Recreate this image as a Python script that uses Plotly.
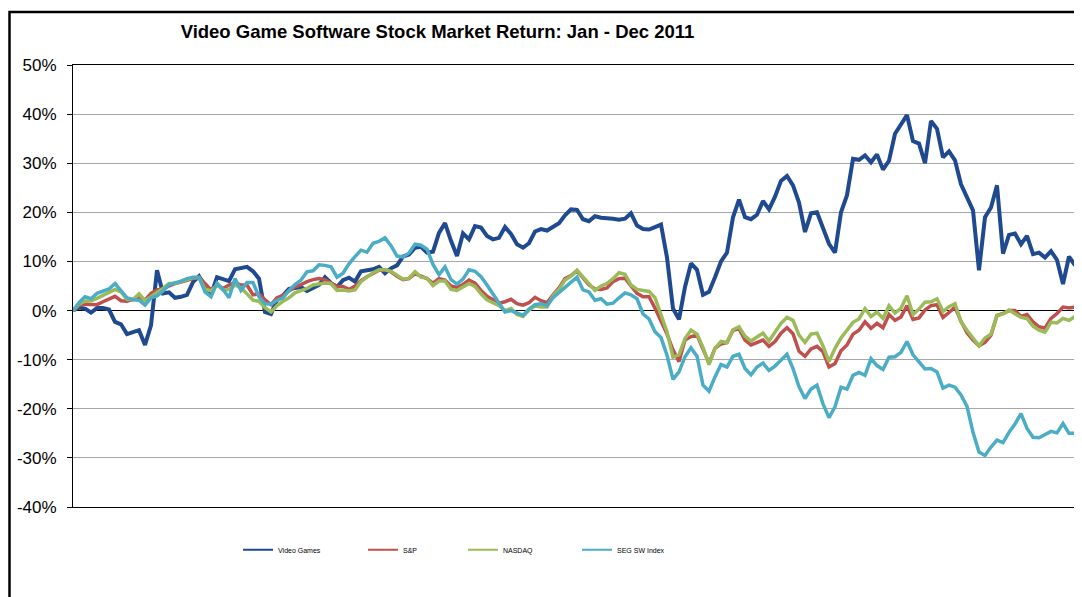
import plotly.graph_objects as go

series_names = ["Video Games", "S&P", "NASDAQ", "SEG SW Index"]

video_games = [0.0, 0.6, 0.4, -0.4, 0.5, 0.5, 0.2, -2.3, -2.8, -4.8, -4.4, -4.0, -7.0, -3.0, 8.2, 3.5, 3.7, 2.6, 2.8, 3.2,
               5.8, 7.0, 5.0, 3.2, 6.8, 6.4, 6.0, 8.4, 8.6, 8.9, 8.0, 6.5, -0.3, -0.7, 2.2, 3.1, 4.4, 4.7, 4.8, 4.0,
               4.5, 5.2, 6.8, 5.6, 4.8, 6.2, 6.7, 5.9, 8.0, 8.1, 8.4, 8.9, 7.6, 8.6, 9.2, 11.0, 11.4, 12.8, 13.0, 11.8,
               12.0, 15.8, 17.8, 14.2, 11.1, 15.7, 14.5, 17.2, 16.9, 15.2, 14.5, 14.8, 17.0, 15.6, 13.5, 12.8, 13.7, 16.1, 16.6, 16.3,
               17.1, 17.8, 19.4, 20.6, 20.5, 18.6, 18.2, 19.2, 18.9, 18.9, 18.7, 18.5, 18.7, 19.8, 17.3, 16.6, 16.5, 17.0, 17.5, 10.8,
               0.4, -1.8, 4.8, 9.6, 8.3, 3.2, 3.8, 6.8, 10.0, 11.8, 19.0, 22.6, 19.0, 18.6, 19.5, 22.3, 20.6, 23.2, 26.4, 27.4,
               25.5, 22.0, 16.0, 19.8, 20.0, 16.8, 13.6, 11.8, 20.0, 23.5, 30.9, 30.7, 31.6, 30.2, 31.8, 28.7, 30.5, 36.0, 37.8, 39.8,
               34.5, 34.0, 30.0, 38.6, 37.0, 31.2, 32.4, 30.6, 25.7, 22.8, 20.4, 8.2, 19.0, 21.0, 25.5, 11.6, 15.4, 15.7, 13.5, 15.2,
               11.5, 11.8, 10.8, 12.1, 10.3, 5.4, 11.0, 9.2]

sp500 = [0.0, 1.0, 1.3, 1.2, 1.2, 1.8, 2.4, 2.9, 2.0, 1.9, 2.3, 2.8, 2.1, 3.5, 4.2, 4.4, 5.0, 5.5, 5.8, 6.2,
         6.5, 6.8, 5.4, 4.2, 5.2, 4.5, 5.2, 5.7, 5.2, 5.2, 3.2, 3.4, 2.2, 1.2, 2.6, 3.1, 4.0, 4.8, 5.3, 5.9,
         6.3, 6.5, 6.3, 5.6, 4.9, 4.9, 4.3, 5.0, 6.1, 6.9, 7.6, 8.2, 8.3, 7.9, 7.0, 6.3, 6.5, 7.5, 7.0, 6.5,
         5.6, 6.5, 6.2, 5.0, 4.7, 5.3, 6.2, 5.6, 4.1, 2.9, 2.2, 1.5, 1.8, 2.3, 1.4, 1.1, 1.6, 2.7, 2.0, 1.6,
         3.2, 4.6, 6.5, 7.1, 8.1, 6.6, 5.2, 4.4, 4.3, 4.6, 5.9, 6.5, 6.6, 5.0, 3.5, 2.8, 2.8, 0.5, -2.0, -4.8,
         -8.0, -10.4, -6.0, -5.3, -5.0, -8.0, -10.7, -7.7, -6.8, -6.5, -4.0, -3.7, -6.0, -7.0, -6.5, -6.0, -7.3, -6.3, -4.6, -3.5,
         -4.7, -8.3, -9.3, -7.8, -7.3, -8.4, -11.5, -10.8, -8.2, -7.0, -4.8, -4.0, -2.3, -3.6, -2.6, -3.5, -0.8, -2.0, -1.3, 1.0,
         -1.8, -1.5, 0.1, 1.0, 1.2, -1.4, -0.4, 0.7, -2.2, -4.5, -6.0, -7.2, -6.5, -5.0, -1.0, -0.6, 0.0, 0.0, -1.2, -0.8,
         -2.3, -3.3, -3.6, -1.6, -0.6, 0.7, 0.5, 0.7]

nasdaq = [0.0, 1.3, 1.9, 2.0, 2.5, 3.1, 3.6, 4.3, 3.8, 2.3, 2.2, 3.4, 2.0, 2.8, 3.8, 4.5, 5.5, 5.5, 5.9, 6.3,
          6.7, 6.7, 4.4, 4.0, 5.2, 4.2, 4.3, 5.2, 4.6, 3.4, 2.1, 1.9, 0.6, -0.3, 1.0, 1.9, 2.6, 3.6, 4.0, 4.5,
          5.2, 5.4, 5.6, 5.5, 4.1, 4.2, 4.0, 4.2, 5.9, 6.8, 7.7, 8.3, 8.3, 8.0, 7.2, 6.4, 6.6, 7.9, 6.8, 6.6,
          5.1, 6.0, 6.0, 4.3, 4.1, 4.9, 5.5, 4.9, 3.4, 2.2, 1.6, 1.0, 0.0, 0.4, -0.8, -1.2, 0.1, 0.9, 0.7, 0.7,
          3.0, 4.3, 6.2, 7.0, 8.2, 6.8, 5.3, 4.1, 5.0, 5.5, 6.5, 7.7, 7.4, 5.2, 4.3, 4.1, 3.9, 2.6, -0.8, -4.3,
          -9.5, -9.0, -5.7, -4.0, -4.8, -7.5, -11.0, -7.7, -6.3, -6.5, -3.9, -3.3, -5.2, -6.2, -5.4, -4.6, -6.2, -4.5, -2.6, -1.4,
          -2.0, -5.0, -6.5, -4.8, -4.6, -7.2, -10.4, -7.7, -5.6, -4.0, -2.4, -1.7, 0.4, -1.2, -0.3, -1.6, 1.0, -0.5, 0.5, 3.0,
          -0.8, 0.3, 1.7, 1.8, 2.4, -0.2, 0.8, 1.4, -2.3, -4.0, -5.5, -7.2, -5.6, -4.8, -1.0, -0.7, 0.1, -0.6, -1.4, -1.6,
          -3.2, -4.0, -4.4, -2.4, -2.5, -1.6, -2.0, -1.2]

seg_sw_index = [0.0, 1.6, 2.8, 2.4, 3.5, 4.0, 4.4, 5.5, 4.0, 2.6, 2.2, 2.1, 1.1, 2.6, 3.0, 4.0, 5.3, 5.6, 6.0, 6.5,
                6.8, 6.8, 3.8, 2.8, 5.6, 4.3, 2.6, 6.5, 4.1, 5.7, 5.7, 2.8, 1.4, 1.3, 2.1, 2.6, 4.1, 5.3, 6.2, 7.9,
                8.1, 9.3, 9.2, 8.9, 6.8, 7.6, 9.5, 11.0, 12.3, 11.9, 13.7, 14.1, 14.8, 13.2, 11.1, 10.9, 11.7, 13.5, 13.3, 12.5,
                9.4, 7.3, 8.9, 6.3, 5.4, 6.4, 8.3, 8.0, 6.9, 5.2, 3.4, 1.6, -0.3, 0.0, -0.6, -1.0, 0.3, 1.2, 1.4, 1.0,
                2.6, 3.6, 4.8, 5.7, 6.8, 4.2, 3.8, 2.1, 2.4, 1.3, 1.5, 2.6, 3.6, 3.2, 2.4, -0.7, -1.7, -4.3, -5.5, -9.1,
                -14.0, -12.5, -9.4, -7.6, -9.3, -15.2, -16.4, -13.5, -11.0, -11.5, -9.3, -8.9, -11.8, -13.1, -11.5, -10.7, -12.2, -11.3, -10.2, -8.9,
                -11.8, -15.5, -17.9, -16.0, -15.2, -19.0, -21.8, -19.6, -15.6, -16.0, -13.2, -12.6, -13.2, -9.8, -11.2, -12.0, -9.5, -9.4, -8.5, -6.3,
                -9.0, -10.5, -11.9, -11.8, -12.5, -15.8, -15.2, -15.6, -17.2, -19.5, -24.8, -28.8, -29.5, -27.8, -26.4, -26.9, -24.8, -23.1, -21.0, -24.0,
                -25.8, -25.9, -25.3, -24.6, -24.9, -23.0, -25.0, -25.0]

y_ticks = [-40, -30, -20, -10, 0, 10, 20, 30, 40, 50]
y_tick_labels = ["-40%", "-30%", "-20%", "-10%", "0%", "10%", "20%", "30%", "40%", "50%"]

title_text = "Video Game Software Stock Market Return: Jan - Dec 2011"

series_values = [video_games, sp500, nasdaq, seg_sw_index]
colors = ["#1F4A8F", "#C0504D", "#9BBB59", "#4BACC6"]
widths = [4, 3.5, 3.5, 3.5]
legend_ids = ["legend", "legend2", "legend3", "legend4"]
legend_x = [0.1647, 0.2894, 0.3892, 0.5030]

days = list(range(len(video_games)))

fig = go.Figure()
for name, vals, col, w in zip(series_names, series_values, colors, widths):
    fig.add_trace(go.Scatter(
        x=days, y=vals, mode="lines", name=name,
        line=dict(color=col, width=w), showlegend=False,
    ))
# legend entries with thinner sample lines
for name, col, lid in zip(series_names, colors, legend_ids):
    fig.add_trace(go.Scatter(
        x=[None], y=[None], mode="lines", name=name,
        line=dict(color=col, width=2), legend=lid, showlegend=True,
    ))

FONT = "Liberation Sans, Arial, sans-serif"

legend_common = dict(
    orientation="h", xanchor="left", yanchor="middle", y=-0.097,
    font=dict(family=FONT, size=7, color="#000000"),
    bgcolor="rgba(0,0,0,0)", borderwidth=0,
)
layout_legends = {}
for lid, lx in zip(legend_ids, legend_x):
    layout_legends[lid] = dict(legend_common, x=lx)

W, H = 1074, 589
fig.update_layout(
    width=W, height=H,
    margin=dict(l=65, r=7, t=57, b=90, pad=0),
    paper_bgcolor="white", plot_bgcolor="white",
    showlegend=True,
    title=dict(text="<b>" + title_text + "</b>", x=429.5 / W, xanchor="center",
               y=1 - 24 / H, yanchor="middle",
               font=dict(family=FONT, size=18.5, color="#000000")),
    xaxis=dict(range=[0, len(days) - 1], showticklabels=False, ticks="", showgrid=False,
               zeroline=False, showline=True, linecolor="#000000", linewidth=1, mirror=True),
    yaxis=dict(range=[-40, 50], tickvals=y_ticks, ticktext=y_tick_labels,
               ticks="outside", ticklen=5, tickcolor="#000000", tickwidth=1,
               ticklabelstandoff=7,
               showgrid=True, gridcolor="#A6A6A6", gridwidth=1,
               zeroline=True, zerolinecolor="#000000", zerolinewidth=1,
               showline=True, linecolor="#000000", linewidth=1, mirror=True,
               tickfont=dict(family=FONT, size=17, color="#000000")),
    shapes=[dict(type="rect", xref="paper", yref="paper",
                 x0=(1.5 - 65) / 1002, x1=1.2, y0=-0.4, y1=(499 - 4) / 442,
                 line=dict(color="#000000", width=2.5), fillcolor="rgba(0,0,0,0)", layer="above")],
    **layout_legends,
)

fig.write_html("out.html")
